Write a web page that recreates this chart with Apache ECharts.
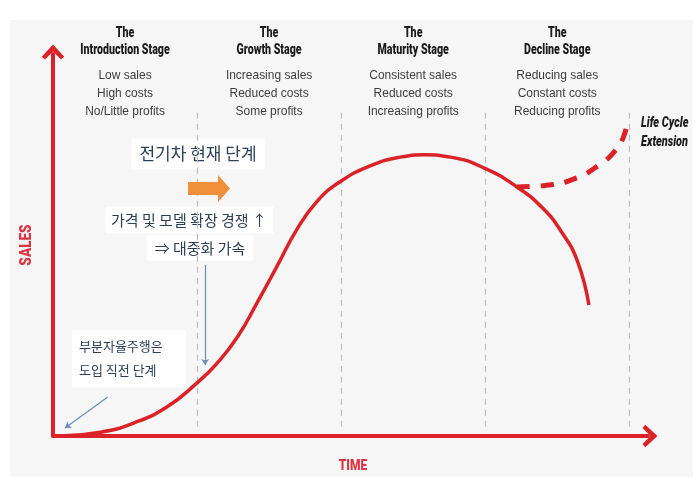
<!DOCTYPE html>
<html>
<head>
<meta charset="utf-8">
<script src="https://cdn.jsdelivr.net/npm/echarts@6/dist/echarts.min.js"></script>
<style>
  html, body { margin: 0; padding: 0; background: #ffffff; }
  #chart { width: 697px; height: 487px; }
</style>
</head>
<body>
<div id="chart"></div>
<script>
// stage columns
const stageNames = ["Introduction Stage", "Growth Stage", "Maturity Stage", "Decline Stage"];
const stageSales = ["Low sales", "Increasing sales", "Consistent sales", "Reducing sales"];
const stageCosts = ["High costs", "Reduced costs", "Reduced costs", "Constant costs"];
const stageProfits = ["No/Little profits", "Some profits", "Increasing profits", "Reducing profits"];
const stageBounds = [1, 2, 3, 4];

// product life cycle curve (time units, sales 0-100)
const timeVals = [0.05, 0.33, 0.56, 0.79, 1.0, 1.14, 1.28, 1.42, 1.56, 1.69, 1.83, 1.99, 2.2, 2.41, 2.58, 2.76, 2.99, 3.22, 3.4, 3.53, 3.64, 3.72];
const salesVals = [0, 1.0, 3.4, 7.6, 13.9, 19.1, 25.9, 35.1, 44.8, 53.9, 61.3, 66.5, 70.7, 73.0, 73.6, 73.0, 70.2, 65.2, 59.6, 53.4, 45.8, 34.3];

// life cycle extension (dashed)
const extTime = [3.22, 3.42, 3.63, 3.8, 3.9, 3.96, 3.99];
const extSales = [65.2, 65.6, 67.5, 71.2, 74.6, 78.3, 83.0];

const RED = "#dc2229";
const chevron = "path://M0,13 L12,0 L24,13 L20.5,16 L12,7.5 L3.5,16 Z";

const chart = echarts.init(document.getElementById("chart"));

const zip = (xs, ys) => xs.map((x, i) => [x, ys[i]]);

chart.setOption({
    animation: false,
    backgroundColor: "#ffffff",
    grid: { left: 53, right: 49, top: 54, bottom: 51 },
    xAxis: {
        type: "value", min: 0, max: 4.13,
        axisLine: { show: true, symbol: ["none", chevron], symbolSize: [24, 15], symbolOffset: [0, 2], lineStyle: { color: RED, width: 4 } },
        axisTick: { show: false }, axisLabel: { show: false }, splitLine: { show: false },
    },
    yAxis: {
        type: "value", min: 0, max: 100,
        axisLine: { show: true, symbol: ["none", chevron], symbolSize: [24, 15], symbolOffset: [0, 2], lineStyle: { color: RED, width: 4 } },
        axisTick: { show: false }, axisLabel: { show: false }, splitLine: { show: false },
    },
    series: [
        {
            name: "Sales",
            type: "line",
            data: zip(timeVals, salesVals),
            smooth: 0.5,
            showSymbol: false,
            z: 5,
            lineStyle: { color: RED, width: 3.5 },
            markLine: {
                silent: true,
                symbol: "none",
                label: { show: false },
                lineStyle: { color: "#bdbdbd", width: 1.2, type: [6, 5] },
                data: stageBounds.map((b) => [{ coord: [b, 84.6] }, { coord: [b, 1.6] }]),
            },
        },
        {
            name: "Extension",
            type: "line",
            data: zip(extTime, extSales),
            smooth: 0.5,
            showSymbol: false,
            z: 4,
            lineStyle: { color: RED, width: 5, type: [13, 11] },
        },
        {
            // annotation pointers
            type: "line",
            data: [],
            markLine: {
                silent: true,
                symbol: ["none", "arrow"],
                symbolSize: 6,
                label: { show: false },
                lineStyle: { color: "#6d8cb8", width: 1.2, type: "solid" },
                data: [
                    [{ coord: [1.056, 44.8] }, { coord: [1.056, 18.6] }],
                    [{ coord: [0.38, 10.2] }, { coord: [0.083, 2.1] }],
                ],
            },
        },
    ],
});

const px = (v) => chart.convertToPixel({ xAxisIndex: 0 }, v);

const headFont = "900 14px Roboto";
const noteFont = "13px 'Liberation Sans'";
const krFont = (s) => `${s}px 'Noto Sans CJK KR'`;

let graphics = [
    { type: "rect", z: -10, shape: { x: 10, y: 20, width: 683, height: 457 }, style: { fill: "#f6f6f6" } },
];

stageNames.forEach((name, i) => {
    const cx = px(i + 0.5);
    const lines = [
        { text: "The", y: 33, font: headFont, fill: "#1b1b1b", scale: 0.76 },
        { text: name, y: 50, font: headFont, fill: "#1b1b1b", scale: 0.76 },
        { text: stageSales[i], y: 75, font: noteFont, fill: "#3d3d3d", scale: 0.92 },
        { text: stageCosts[i], y: 93, font: noteFont, fill: "#3d3d3d", scale: 0.92 },
        { text: stageProfits[i], y: 111, font: noteFont, fill: "#3d3d3d", scale: 0.92 },
    ];
    lines.forEach((l) => {
        graphics.push({
            type: "text", x: cx, y: l.y, scaleX: l.scale,
            style: { text: l.text, font: l.font, fill: l.fill, align: "center", verticalAlign: "middle" },
        });
    });
});

graphics = graphics.concat([
    {
        type: "text", x: 641, y: 123, scaleX: 0.78,
        style: { text: "Life Cycle", font: "italic 900 14px Roboto", fill: "#1b1b1b", align: "left", verticalAlign: "middle" },
    },
    {
        type: "text", x: 641, y: 142, scaleX: 0.78,
        style: { text: "Extension", font: "italic 900 14px Roboto", fill: "#1b1b1b", align: "left", verticalAlign: "middle" },
    },
    {
        type: "text", x: 27, y: 245, rotation: Math.PI / 2, scaleX: 0.8,
        style: { text: "SALES", font: "900 17px Roboto", fill: "#de3343", align: "center", verticalAlign: "middle" },
    },
    {
        type: "text", x: 353, y: 466, scaleX: 0.8,
        style: { text: "TIME", font: "900 15px Roboto", fill: "#de3343", align: "center", verticalAlign: "middle" },
    },
    {
        type: "text", x: 198, y: 154,
        style: { text: "전기차 현재 단계", font: krFont(17), fill: "#2d3d5a", align: "center", verticalAlign: "middle", backgroundColor: "#ffffff", padding: [7, 8] },
    },
    {
        type: "polygon", z: 10,
        shape: { points: [[188, 182], [218, 182], [218, 175], [230, 188.5], [218, 202], [218, 195], [188, 195]] },
        style: { fill: "#f0903a" },
    },
    {
        type: "text", x: 189, y: 220,
        style: { text: "가격 및 모델 확장 경쟁 ↑", font: krFont(15), fill: "#2d3d5a", align: "center", verticalAlign: "middle", backgroundColor: "#ffffff", padding: [6, 6] },
    },
    {
        type: "text", x: 200, y: 248,
        style: { text: "⇒ 대중화 가속", font: krFont(15), fill: "#2d3d5a", align: "center", verticalAlign: "middle", backgroundColor: "#ffffff", padding: [5, 8] },
    },
    { type: "rect", z: 1, shape: { x: 72, y: 330, width: 114, height: 57 }, style: { fill: "#ffffff" } },
    {
        type: "text", x: 79, y: 346, z: 2,
        style: { text: "부분자율주행은", font: krFont(13), fill: "#2d3d5a", align: "left", verticalAlign: "middle" },
    },
    {
        type: "text", x: 79, y: 370, z: 2,
        style: { text: "도입 직전 단계", font: krFont(13), fill: "#2d3d5a", align: "left", verticalAlign: "middle" },
    },
]);

chart.setOption({ graphic: graphics });
</script>
</body>
</html>
